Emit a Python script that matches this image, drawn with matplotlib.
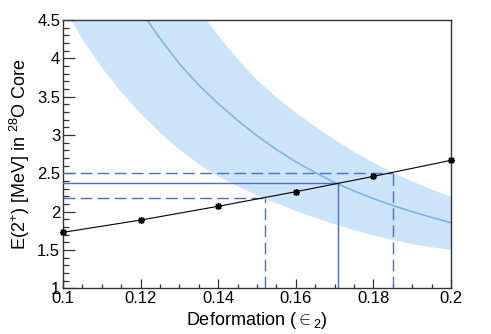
import matplotlib
matplotlib.use("Agg")
import matplotlib.pyplot as plt
from matplotlib.ticker import MultipleLocator

plt.rcParams["font.family"] = ["Liberation Sans", "DejaVu Sans"]
plt.rcParams["mathtext.fontset"] = "custom"
plt.rcParams["mathtext.rm"] = "Liberation Sans"
plt.rcParams["mathtext.it"] = "Liberation Sans:italic"
plt.rcParams["lines.scale_dashes"] = False

# measured E(2+) vs deformation
eps_pts = [0.10, 0.12, 0.14, 0.16, 0.18, 0.20]
e_pts = [1.73, 1.89, 2.07, 2.26, 2.46, 2.67]

# theory band (upper values left of 0.135 lie above the frame)
band_eps = [0.100, 0.105, 0.110, 0.115, 0.120, 0.125, 0.130, 0.135, 0.140, 0.145,
            0.150, 0.155, 0.160, 0.165, 0.170, 0.175, 0.180, 0.185, 0.190, 0.195, 0.200]
band_lo = [4.68, 4.25, 3.88, 3.56, 3.28, 3.03, 2.81, 2.62, 2.46, 2.33,
           2.215, 2.11, 2.01, 1.92, 1.835, 1.76, 1.69, 1.63, 1.575, 1.535, 1.50]
band_hi = [8.6, 7.8, 7.1, 6.5, 5.95, 5.45, 5.02, 4.63, 4.30, 3.99,
           3.72, 3.49, 3.29, 3.11, 2.94, 2.78, 2.64, 2.51, 2.395, 2.29, 2.195]
cen_eps = [0.120, 0.125, 0.130, 0.135, 0.140, 0.145, 0.150, 0.155, 0.160, 0.165,
           0.170, 0.175, 0.180, 0.185, 0.190, 0.195, 0.200]
cen_e = [4.62, 4.26, 3.93, 3.65, 3.41, 3.19, 2.99, 2.81, 2.65, 2.51,
         2.38, 2.27, 2.17, 2.08, 2.00, 1.925, 1.856]

# crossings of the band with the data line
eps_cross = [0.152, 0.171, 0.185]
e_cross = [2.18, 2.37, 2.51]
cross_style = ["dashed", "solid", "dashed"]

band_col = "#cce4fa"
cen_col = "#7eaee6"
ref_col = "#4a70c6"

fig = plt.figure(figsize=(4.91, 3.34), dpi=100)
ax = fig.add_axes([0.1283, 0.1368, 0.7902, 0.8033])

ax.fill_between(band_eps, band_lo, band_hi, color=band_col, lw=0, zorder=1)
ax.plot(cen_eps, cen_e, color=cen_col, lw=1.1, zorder=2)

for ex, ey, st in zip(eps_cross, e_cross, cross_style):
    kw = dict(color=ref_col, lw=1.0, zorder=3)
    if st == "dashed":
        kw["dashes"] = (8.5, 3.8)
    ax.plot([0.1, ex], [ey, ey], **kw)
    ax.plot([ex, ex], [1.0, ey], **kw)

ax.plot(eps_pts, e_pts, color="black", lw=0.8, marker=(8, 2, 0), ms=5, mew=1.0,
        zorder=4, clip_on=False)

ax.set_xlim(0.1, 0.2)
ax.set_ylim(1, 4.5)
xt = [0.1, 0.12, 0.14, 0.16, 0.18, 0.2]
yt = [1, 1.5, 2, 2.5, 3, 3.5, 4, 4.5]
ax.set_xticks(xt)
ax.set_xticklabels(["0.1", "0.12", "0.14", "0.16", "0.18", "0.2"])
ax.set_yticks(yt)
ax.set_yticklabels(["1", "1.5", "2", "2.5", "3", "3.5", "4", "4.5"])
ax.xaxis.set_minor_locator(MultipleLocator(0.005))
ax.yaxis.set_minor_locator(MultipleLocator(0.1))
ax.tick_params(axis="both", which="both", direction="in", top=False, right=False,
               labelsize=12, color="#333333", width=0.9, pad=2)
ax.tick_params(axis="y", which="major", length=8.5)
ax.tick_params(axis="y", which="minor", length=4.3)
ax.tick_params(axis="x", which="major", length=6.5)
ax.tick_params(axis="x", which="minor", length=3.2)
for s in ax.spines.values():
    s.set_linewidth(1.0)
    s.set_color("#333333")

ax.set_xlabel(r"Deformation ($\in_2$)", fontsize=13, labelpad=3)
ax.set_ylabel(r"E(2$^{+}$) [MeV] in $^{28}$O Core", fontsize=13, labelpad=4)

fig.savefig("out.png", dpi=100)
